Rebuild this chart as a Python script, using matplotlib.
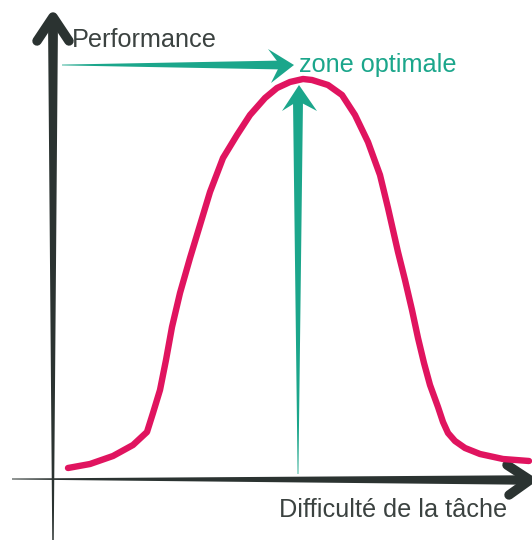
import numpy as np
import matplotlib
matplotlib.use('Agg')
import matplotlib.pyplot as plt
from matplotlib.patches import Polygon

# ------- data (image pixel coordinates, y downwards)
curve_x = [68, 90, 113, 133, 147, 153, 160, 163, 166, 172, 180, 190, 200, 210,
           223, 237, 250, 265, 277, 290, 303, 312, 328, 342, 355, 368, 380,
           388, 398, 405, 412, 418, 424, 430, 438, 443, 448, 455, 465, 480, 503, 529]
curve_y = [468, 464, 456, 445, 432, 413, 390, 375, 360, 327, 293, 258, 225, 192,
           158, 135, 115, 98, 88, 82, 79, 80, 85, 95, 115, 142, 175,
           208, 252, 280, 310, 338, 363, 385, 407, 422, 433, 441, 448, 454, 459, 461]

y_label = 'Performance'
x_label = 'Difficulté de la tâche'
opt_label = 'zone optimale'

# colours
dark = '#2b3331'
text_dark = '#3b4240'
pink = '#e0145f'
teal = '#1ba68b'


def taper(ax, p0, p1, w0, w1, color):
    """filled stroke going from width w0 at p0 to width w1 at p1"""
    p0 = np.array(p0, float)
    p1 = np.array(p1, float)
    d = (p1 - p0) / np.linalg.norm(p1 - p0)
    n = np.array([-d[1], d[0]])
    pts = [p0 + n * w0 / 2, p1 + n * w1 / 2, p1 - n * w1 / 2, p0 - n * w0 / 2]
    ax.add_patch(Polygon(pts, closed=True, color=color, lw=0))


fig = plt.figure(figsize=(5.32, 5.41), dpi=100)
ax = fig.add_axes([0, 0, 1, 1])
ax.set_xlim(0, 532)
ax.set_ylim(541, 0)
ax.axis('off')

# ---------axes (hand drawn look)
taper(ax, (53, 540), (53, 20), 1.5, 10, dark)
taper(ax, (12, 479), (526, 480), 1, 9.5, dark)
ax.plot([37, 53, 69], [41, 17, 41], color=dark, lw=6.8,
        solid_capstyle='round', solid_joinstyle='round')
ax.plot([507, 530, 509], [465, 480, 495], color=dark, lw=6.8,
        solid_capstyle='round', solid_joinstyle='round')

# ---------teal arrows
taper(ax, (62, 65), (284, 65), 0.8, 9, teal)
ax.add_patch(Polygon([(294, 65), (268, 49), (280, 65), (271, 83)],
                     closed=True, color=teal, lw=0))
taper(ax, (298, 474), (298, 100), 0.8, 10, teal)
ax.add_patch(Polygon([(299, 85), (282, 111), (298, 101), (317, 111)],
                     closed=True, color=teal, lw=0))

# ---------curve
ax.plot(curve_x, curve_y, color=pink, lw=4.6,
        solid_capstyle='round', solid_joinstyle='round')

# ---------texts
font = 'Liberation Sans'
ax.text(72, 47, y_label, fontsize=18.2, family=font, color=text_dark, va='baseline')
ax.text(299, 72, opt_label, fontsize=18.2, family=font, color=teal, va='baseline')
ax.text(279, 517, x_label, fontsize=18.2, family=font, color=text_dark, va='baseline')

fig.savefig('out.png', dpi=100)
